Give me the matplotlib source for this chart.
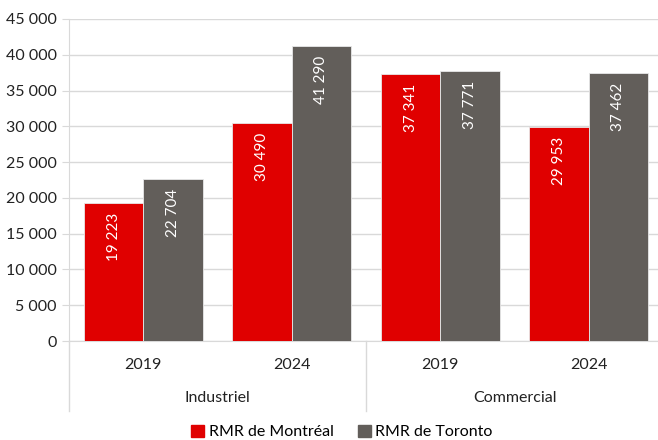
import numpy as np
import matplotlib.pyplot as plt
from matplotlib.transforms import blended_transform_factory

# Data
groups = ["Industriel", "Commercial"]
years = ["2019", "2024", "2019", "2024"]
montreal = [19223, 30490, 37341, 29953]
toronto = [22704, 41290, 37771, 37462]
series_names = ["RMR de Montréal", "RMR de Toronto"]

red = "#E00000"
grey = "#625E5A"
line_col = "#D9D9D9"

plt.rcParams['font.family'] = ['Lato', 'DejaVu Sans']

W, H = 658, 440
fig = plt.figure(figsize=(W / 100, H / 100), dpi=100)
# axes in pixel coords: left 69, right 663, top 19, bottom 341
ax = fig.add_axes([69 / W, (H - 341) / H, (663 - 69) / W, (341 - 19) / H])

x = np.arange(len(years))
bw = 0.4
b1 = ax.bar(x - bw / 2, montreal, bw, color=red, edgecolor="#E8E8E8", linewidth=0.6, zorder=3)
b2 = ax.bar(x + bw / 2, toronto, bw, color=grey, edgecolor="#E8E8E8", linewidth=0.6, zorder=3)

def fmt(v):
    return f"{v:,}".replace(",", " ")

for bars, vals in ((b1, montreal), (b2, toronto)):
    for b, v in zip(bars, vals):
        ax.annotate(fmt(v), (b.get_x() + b.get_width() / 2, v), xytext=(0, -7),
                    textcoords="offset points", rotation=90, ha="center", va="top",
                    color="white", fontsize=11, zorder=4)

ax.set_xlim(-0.5, 3.5)
ax.set_ylim(0, 45000)
ax.set_yticks(np.arange(0, 45001, 5000))
ax.set_yticklabels([fmt(v) for v in range(0, 45001, 5000)], fontsize=11.5, color="#222222")
ax.yaxis.grid(True, color=line_col, linewidth=1, zorder=0)
ax.tick_params(axis="y", length=5, color=line_col, pad=4)
ax.set_xticks([])

for s in ["top", "right"]:
    ax.spines[s].set_visible(False)
ax.spines["left"].set_color(line_col)
ax.spines["bottom"].set_color(line_col)

# two-level category axis
tr = blended_transform_factory(ax.transData, ax.transAxes)
px = 1 / (341 - 19)
for i, yr in enumerate(years):
    ax.text(i, -24 * px, yr, transform=tr, ha="center", va="center", fontsize=11.5, color="#222222")
for j, g in enumerate(groups):
    ax.text(2 * j + 0.5, -57 * px, g, transform=tr, ha="center", va="center", fontsize=11.5, color="#222222")
for xv in (-0.5, 1.5):
    ax.plot([xv, xv], [0, -70 * px], transform=tr, color=line_col, linewidth=1, clip_on=False)

handles = [plt.Rectangle((0, 0), 1, 1, color=red), plt.Rectangle((0, 0), 1, 1, color=grey)]
fig.legend(handles, series_names, loc="center", bbox_to_anchor=(342 / W, (H - 432) / H),
           ncol=2, frameon=False, fontsize=11.5, handlelength=0.8, handleheight=0.8,
           handletextpad=0.3, columnspacing=1.5)

fig.savefig("out.png", dpi=100)
